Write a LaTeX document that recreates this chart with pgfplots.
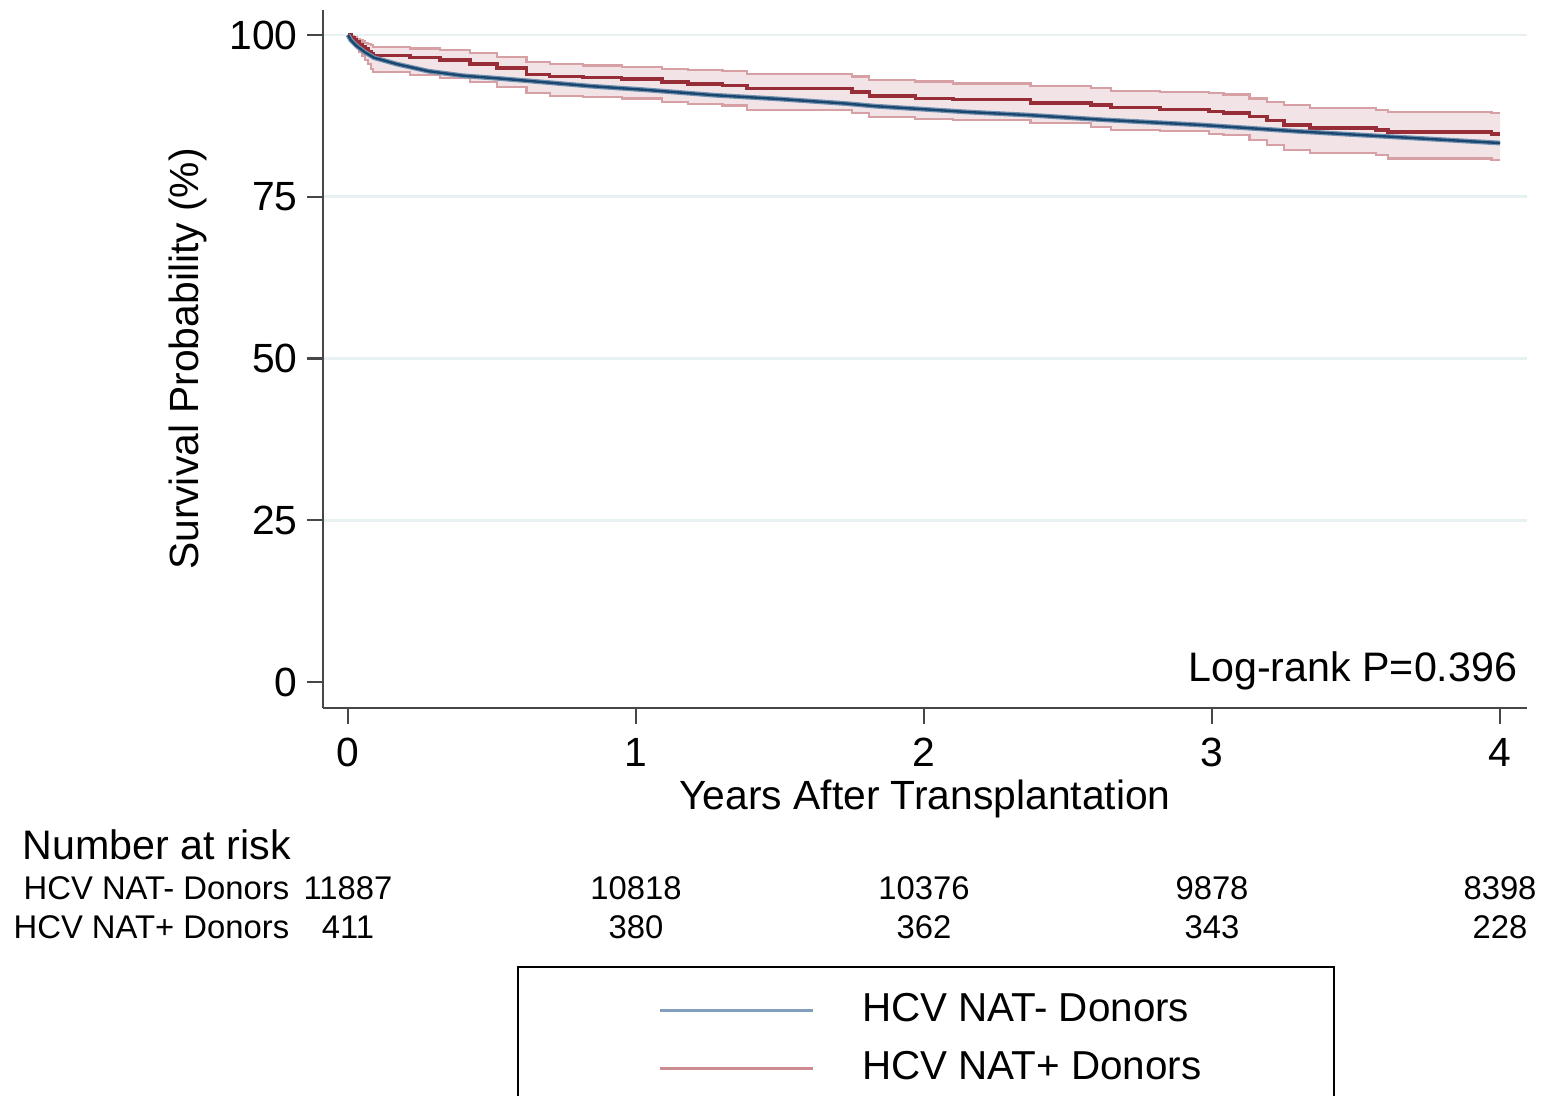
\documentclass[border=0pt]{standalone}
\usepackage{fontspec}
\setmainfont{Liberation Sans}
\usepackage{pgfplots}
\pgfplotsset{compat=1.18}
\usepackage{pgfplotstable}
\usepgfplotslibrary{fillbetween}

\definecolor{navyc}{RGB}{26,71,111}
\definecolor{navyout}{RGB}{115,145,175}
\definecolor{maroonc}{RGB}{150,45,55}
\definecolor{bandfill}{RGB}{242,228,230}
\definecolor{bandline}{RGB}{214,160,165}
\definecolor{gridc}{RGB}{232,241,242}
\definecolor{legblue}{RGB}{130,160,190}
\definecolor{legred}{RGB}{205,140,145}

% NAT+ donors: Kaplan-Meier estimate with 95% CI (step function)
\pgfplotstableread{
t     est    lo     hi
0     100    100    100
0.01  99.6   99.35  99.8
0.02  99.25  98.7   99.6
0.03  98.9   98.05  99.4
0.04  98.5   97.4   99.2
0.05  98.15  96.8   99.0
0.06  97.8   96.1   98.8
0.07  97.45  95.5   98.6
0.08  97.1   94.8   98.4
0.087 96.8   94.3   98.2
0.215 96.5   93.8   97.9
0.32  96.1   93.4   97.7
0.424 95.5   92.7   97.2
0.517 94.9   92.0   96.6
0.62  93.9   91.0   95.8
0.70  93.6   90.6   95.5
0.816 93.4   90.4   95.3
0.95  93.2   90.2   95.1
1.09  92.7   89.7   94.8
1.18  92.4   89.3   94.6
1.30  92.2   89.1   94.4
1.385 91.7   88.4   94.0
1.75  91.2   87.9   93.6
1.81  90.6   87.3   93.0
1.97  90.2   87.0   92.8
2.10  90.0   86.9   92.5
2.37  89.5   86.4   92.1
2.58  89.2   85.8   91.8
2.65  88.8   85.3   91.4
2.82  88.5   85.1   91.2
2.99  88.2   84.7   91.0
3.04  87.9   84.5   90.8
3.13  87.4   83.8   90.2
3.19  86.8   83.0   89.7
3.25  86.1   82.2   89.2
3.34  85.6   81.8   88.7
3.57  85.3   81.5   88.4
3.61  85.0   80.9   88.1
3.97  84.7   80.7   87.9
4.00  84.7   80.7   87.9
}\natpos

% NAT- donors: Kaplan-Meier estimate
\pgfplotstableread{
t     est
0     100
0.01  99.2
0.03  98.3
0.06  97.3
0.09  96.5
0.17  95.5
0.28  94.4
0.40  93.7
0.52  93.3
0.63  92.9
0.84  92.1
1.04  91.5
1.27  90.7
1.50  90.1
1.73  89.4
1.83  89.0
2.15  88.1
2.37  87.6
2.62  86.9
2.96  86.1
3.30  85.1
3.65  84.2
4.00  83.3
}\natneg

\begin{document}
\begin{tikzpicture}
\begin{axis}[
  at={(80.75pt,-177pt)}, anchor=south west,
  scale only axis, width=301pt, height=174.5pt,
  xmin=-0.0868, xmax=4.0937, ymin=-4.02, ymax=103.86,
  axis x line*=bottom, axis y line*=left,
  axis line style={line width=0.6pt, color=black!72},
  xtick={0,1,2,3,4}, ytick={0,25,50,75,100},
  extra y ticks={25,50,75,100},
  extra y tick style={grid=major, major tick length=0pt, yticklabels={}},
  extra y tick labels={},
  grid style={line width=0.7pt, color=gridc},
  tick align=outside, major tick length=3.9pt,
  tick style={line width=0.6pt, color=black!72},
  /pgf/number format/assume math mode=true,
  tick label style={font=\fontsize{10.2}{12}\selectfont},
  xticklabel style={anchor=north, inner sep=0pt, yshift=-3.4pt},
  yticklabel style={anchor=east, inner sep=0pt, xshift=-2.3pt},
  xlabel={Years After Transplantation},
  ylabel={Survival Probability (\%)},
  every axis x label/.style={at={(axis description cs:0.5,-0.1447)}, anchor=base, font=\fontsize{10.2}{12}\selectfont},
  every axis y label/.style={at={(axis description cs:-0.103,0.5)}, anchor=base, rotate=90, font=\fontsize{10.2}{12}\selectfont},
  legend style={at={(0.1611,-0.3696)}, anchor=north west, draw=black, line width=0.5pt,
    inner xsep=35pt, inner ysep=6.5pt, row sep=6pt,
    font=\fontsize{10.1}{12}\selectfont,
    nodes={inner sep=0pt},
    /tikz/every odd column/.append style={column sep=12pt}},
  legend cell align=left,
  legend image code/.code={\draw[#1] (0pt,0pt) -- (38.25pt,0pt);},
]
% confidence band of NAT+ donors
\addplot[const plot, draw=none, name path=hi, forget plot] table[x=t, y=hi] {\natpos};
\addplot[const plot, draw=none, name path=lo, forget plot] table[x=t, y=lo] {\natpos};
\addplot[fill=bandfill, draw=none, forget plot] fill between[of=hi and lo];
\addplot[const plot, color=bandline, line width=0.55pt, forget plot] table[x=t, y=hi] {\natpos};
\addplot[const plot, color=bandline, line width=0.55pt, forget plot] table[x=t, y=lo] {\natpos};
% NAT+ estimate
\addplot[const plot, color=maroonc, line width=0.9pt, forget plot] table[x=t, y=est] {\natpos};
% NAT- estimate
\addplot[color=navyout, line width=1.2pt, forget plot] table[x=t, y=est] {\natneg};
\addplot[color=navyc, line width=0.6pt, forget plot] table[x=t, y=est] {\natneg};

\addlegendimage{color=legblue, line width=0.8pt}
\addlegendentry{\makebox[83pt][l]{HCV NAT- Donors}}
\addlegendimage{color=legred, line width=0.8pt}
\addlegendentry{\makebox[83pt][l]{HCV NAT+ Donors}}
\end{axis}

\node[anchor=east, inner sep=0pt, font=\fontsize{10.3}{12}\selectfont] at (379.5pt,-167.75pt) {Log-rank P=0.396};

\node[anchor=west, inner sep=0pt, font=\fontsize{10.3}{12}\selectfont] at (5.5pt,-211.25pt) {Number at risk};
\begin{scope}[every node/.style={inner sep=0pt, font=\fontsize{8.2}{10}\selectfont}]
\node[anchor=east] at (72.5pt,-222pt) {HCV NAT- Donors};
\node[anchor=east] at (72.5pt,-231.75pt) {HCV NAT+ Donors};
\node at (87pt,-222pt) {11887};
\node at (159pt,-222pt) {10818};
\node at (231pt,-222pt) {10376};
\node at (303pt,-222pt) {9878};
\node at (375pt,-222pt) {8398};
\node at (87pt,-231.75pt) {411};
\node at (159pt,-231.75pt) {380};
\node at (231pt,-231.75pt) {362};
\node at (303pt,-231.75pt) {343};
\node at (375pt,-231.75pt) {228};
\end{scope}

\pgfresetboundingbox
\path[use as bounding box] (0pt,0pt) rectangle (385.25pt,-273.75pt);
\end{tikzpicture}
\end{document}
